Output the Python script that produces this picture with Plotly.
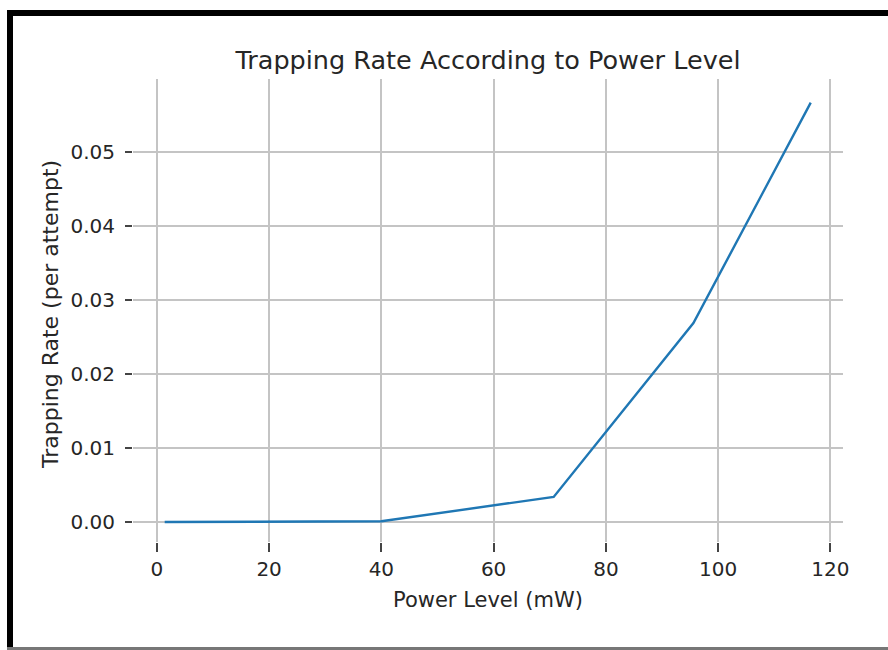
import plotly.graph_objects as go

power_mw = [1.4, 40.0, 70.7, 95.6, 116.5]
trap_rate = [0.0, 0.0001, 0.0034, 0.0269, 0.0567]

x_ticks = [0, 20, 40, 60, 80, 100, 120]
y_ticks = [0.00, 0.01, 0.02, 0.03, 0.04, 0.05]

W, H = 888, 650
ML, MR, MT, MB = 133, 45, 79, 108
PW, PH = W - ML - MR, H - MT - MB

FONT = "DejaVu Sans"
TXT = "#262626"
GRID = "#c4c4c4"


def px_x(x):
    return (x - ML) / PW


def px_y(y):
    return (H - MB - y) / PH


fig = go.Figure()
fig.add_trace(go.Scatter(
    x=power_mw, y=trap_rate, mode="lines",
    line=dict(color="#1f77b4", width=2.4),
    showlegend=False, hoverinfo="x+y",
))

fig.update_layout(
    width=W, height=H,
    paper_bgcolor="white", plot_bgcolor="white",
    margin=dict(l=ML, r=MR, t=MT, b=MB),
    font=dict(family=FONT, color=TXT),
    title=dict(text="Trapping Rate According to Power Level",
               x=488 / W, xanchor="center", y=1 - 60 / H, yanchor="middle",
               font=dict(size=25.5, family=FONT, color=TXT)),
    xaxis=dict(
        range=[-4.25, 122.25], tickvals=x_ticks, ticktext=[str(v) for v in x_ticks],
        showgrid=True, gridcolor=GRID, gridwidth=1.5, zeroline=False,
        showline=False, ticks="outside", ticklen=9, tickwidth=1.5, tickcolor="#444",
        tickfont=dict(size=20, family=FONT, color=TXT),
    ),
    yaxis=dict(
        range=[-0.0027, 0.0599], tickvals=y_ticks, ticktext=[f"{v:.2f}" for v in y_ticks],
        showgrid=True, gridcolor=GRID, gridwidth=1.5, zeroline=False,
        showline=False, ticks="outside", ticklen=7, tickwidth=1.5, tickcolor="#444",
        tickfont=dict(size=20, family=FONT, color=TXT),
        ticklabelstandoff=6,
    ),
    annotations=[
        dict(text="Power Level (mW)", xref="paper", yref="paper",
             x=px_x(488), y=px_y(600), xanchor="center", yanchor="middle",
             showarrow=False, font=dict(size=21, family=FONT, color=TXT)),
        dict(text="Trapping Rate (per attempt)", xref="paper", yref="paper",
             x=px_x(50), y=px_y(315), xanchor="center", yanchor="middle", textangle=-90,
             showarrow=False, font=dict(size=22, family=FONT, color=TXT)),
    ],
)

# Screenshot frame: thick black top and left edges, thin grey bottom edge
frame = [
    (7, 10, 888, 16, "black"),
    (7, 10, 13, 650, "black"),
    (7, 647, 888, 650, "#777777"),
]
for x0, y0, x1, y1, c in frame:
    fig.add_shape(type="rect", xref="paper", yref="paper",
                  x0=px_x(x0), x1=px_x(x1), y0=px_y(y1), y1=px_y(y0),
                  fillcolor=c, line=dict(width=0), layer="above")

fig.write_html("out.html", config={"displayModeBar": False},
               post_script="document.body.style.margin='0';document.body.style.overflow='hidden';")
